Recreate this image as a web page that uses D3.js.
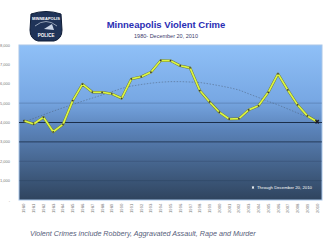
<!DOCTYPE html>
<html>
<head>
<meta charset="utf-8">
<script src="https://cdn.jsdelivr.net/npm/d3@7"></script>
<style>
  body { margin: 0; background: #fff; }
  svg { display: block; font-family: "Liberation Sans", Arial, sans-serif; }
</style>
</head>
<body>
<div id="chart"></div>
<script>
// yearly violent crime counts, 1980 - 2010 (2010 through Dec 20)
const years = d3.range(1980, 2011).map(String);
const crimes = [4090, 3920, 4270, 3520, 3900, 5130, 5980, 5570, 5560, 5480,
                5250, 6250, 6360, 6600, 7200, 7190, 6930, 6820, 5650, 5060,
                4530, 4180, 4200, 4650, 4860, 5560, 6510, 5680, 4910, 4340, 4040];
// polynomial trendline as it appears in the picture
const trend = [4020, 4210, 4400, 4585, 4760, 4930, 5100, 5260, 5420, 5590,
               5760, 5880, 5960, 6030, 6080, 6110, 6110, 6090, 6065, 5990,
               5900, 5800, 5680, 5480, 5290, 5090, 4910, 4700, 4490, 4280, 4060];
const yTicks = [0, 1000, 2000, 3000, 4000, 5000, 6000, 7000, 8000];
const gridTicks = [1000, 2000, 3000, 4000, 5000];

const width = 328, height = 246;
const plot = { left: 19, right: 322, top: 45, bottom: 200 };

const svg = d3.select("#chart").append("svg")
  .attr("width", width)
  .attr("height", height);

const defs = svg.append("defs");
const grad = defs.append("linearGradient")
  .attr("id", "bg").attr("x1", 0).attr("y1", 0).attr("x2", 0).attr("y2", 1);
grad.append("stop").attr("offset", "0%").attr("stop-color", "#8fc0f7");
grad.append("stop").attr("offset", "35%").attr("stop-color", "#78a8e4");
grad.append("stop").attr("offset", "55%").attr("stop-color", "#5a82b8");
grad.append("stop").attr("offset", "100%").attr("stop-color", "#2f445e");

const x = d3.scalePoint()
  .domain(years)
  .range([plot.left, plot.right])
  .padding(0.5);

const y = d3.scaleLinear()
  .domain([0, 8000])
  .range([plot.bottom, plot.top]);

// plot background
svg.append("rect")
  .attr("x", plot.left).attr("y", plot.top)
  .attr("width", plot.right - plot.left)
  .attr("height", plot.bottom - plot.top)
  .attr("fill", "url(#bg)")
  .attr("stroke", "#a9c6e8")
  .attr("stroke-width", 1);

// gridlines
svg.append("g")
  .selectAll("line")
  .data(gridTicks)
  .join("line")
  .attr("x1", plot.left).attr("x2", plot.right)
  .attr("y1", d => y(d)).attr("y2", d => y(d))
  .attr("stroke", "#14243c")
  .attr("stroke-opacity", d => (d === 4000 || d === 3000) ? 0.9 : 0.25)
  .attr("stroke-width", d => d === 4000 ? 1.2 : 0.8);

// y labels
svg.append("g")
  .selectAll("text")
  .data(yTicks)
  .join("text")
  .attr("x", 10)
  .attr("y", d => y(d) + 1.5)
  .attr("text-anchor", "end")
  .attr("font-size", 4)
  .attr("fill", "#777")
  .text(d => d === 0 ? "-" : d3.format(",")(d));

// x labels, rotated
svg.append("g")
  .selectAll("text")
  .data(years)
  .join("text")
  .attr("transform", d => `translate(${x(d) + 1.5},${plot.bottom + 13}) rotate(-90)`)
  .attr("font-size", 4.2)
  .attr("fill", "#777")
  .text(d => d);

// trendline
svg.append("path")
  .datum(trend)
  .attr("fill", "none")
  .attr("stroke", "#4d5f78")
  .attr("stroke-opacity", 0.75)
  .attr("stroke-width", 0.7)
  .attr("stroke-dasharray", "1.5,1.5")
  .attr("d", d3.line().x((d, i) => x(years[i])).y(d => y(d)));

// data line
const line = d3.line().x((d, i) => x(years[i])).y(d => y(d));
svg.append("path")
  .datum(crimes)
  .attr("fill", "none")
  .attr("stroke", "#6a7a3a")
  .attr("stroke-width", 2.6)
  .attr("stroke-linejoin", "round")
  .attr("d", line);
svg.append("path")
  .datum(crimes)
  .attr("fill", "none")
  .attr("stroke", "#dcf542")
  .attr("stroke-width", 1.7)
  .attr("stroke-linejoin", "round")
  .attr("d", line);

// markers
svg.append("g")
  .selectAll("circle")
  .data(crimes.slice(0, -1))
  .join("circle")
  .attr("cx", (d, i) => x(years[i]))
  .attr("cy", d => y(d))
  .attr("r", 0.9)
  .attr("fill", "#3a3a3a");

// last point X marker
const last = crimes.length - 1;
svg.append("path")
  .attr("d", d3.symbol(d3.symbolCross, 12))
  .attr("transform", `translate(${x(years[last])},${y(crimes[last])}) rotate(45)`)
  .attr("fill", "#1a1a2a");

// legend
svg.append("path")
  .attr("d", d3.symbol(d3.symbolCross, 4))
  .attr("transform", "translate(253,187.5) rotate(45)")
  .attr("fill", "#fff");
svg.append("text")
  .attr("x", 257).attr("y", 189)
  .attr("font-size", 4.3)
  .attr("fill", "#fff")
  .text("Through December 20, 2010");

// police badge
const badge = svg.append("g").attr("transform", "translate(46,26)");
badge.append("path")
  .attr("d", "M-15,-12 Q0,-17 15,-12 L16,4 Q16,13 8,15 L-8,15 Q-16,13 -16,4 Z")
  .attr("fill", "#1f3358")
  .attr("stroke", "#0e1c36");
badge.append("path")
  .attr("d", "M-11,0 Q0,-9 11,0")
  .attr("fill", "none")
  .attr("stroke", "#dfe7f2")
  .attr("stroke-width", 0.6);
badge.append("text")
  .attr("y", -6).attr("text-anchor", "middle")
  .attr("font-size", 4).attr("font-weight", "bold").attr("fill", "#fff")
  .text("MINNEAPOLIS");
badge.append("path")
  .attr("d", "M-2,3 L6,-2 L8,4 Z")
  .attr("fill", "#c9d4e6");
badge.append("text")
  .attr("y", 11).attr("text-anchor", "middle")
  .attr("font-size", 4.5).attr("font-weight", "bold").attr("fill", "#fff")
  .text("POLICE");

// titles
svg.append("text")
  .attr("x", 166).attr("y", 28)
  .attr("text-anchor", "middle")
  .attr("font-size", 9.5).attr("font-weight", "bold")
  .attr("fill", "#2a2eb4")
  .text("Minneapolis Violent Crime");
svg.append("text")
  .attr("x", 166).attr("y", 38)
  .attr("text-anchor", "middle")
  .attr("font-size", 5.5)
  .attr("fill", "#3a3a6a")
  .text("1980- December 20, 2010");

// footnote
svg.append("text")
  .attr("x", 30).attr("y", 236)
  .attr("font-size", 7.2).attr("font-style", "italic")
  .attr("fill", "#56607a")
  .text("Violent Crimes include Robbery, Aggravated Assault, Rape and Murder");
</script>
</body>
</html>
